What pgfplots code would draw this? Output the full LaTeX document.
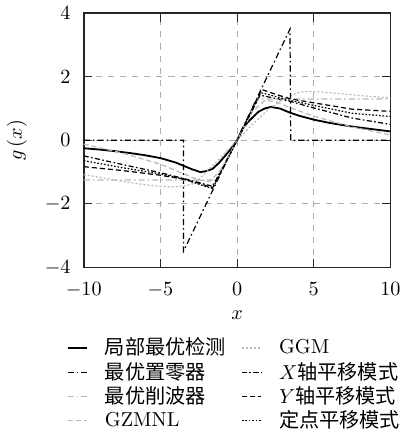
\documentclass[border=0pt]{standalone}
\usepackage{fontspec}
\usepackage{pgfplots}
\pgfplotsset{compat=1.18}
\newfontfamily\cjk{Noto Sans CJK SC}
\definecolor{lgray}{gray}{0.72}

\begin{document}
\begin{tikzpicture}
\begin{axis}[
    scale only axis,
    width=152pt, height=126pt,
    xmin=-10, xmax=10, ymin=-4, ymax=4,
    xtick={-10,-5,0,5,10},
    ytick={-4,-2,0,2,4},
    xticklabel shift=4pt,
    yticklabel shift=3pt,
    xlabel={$x$},
    ylabel={$g\left(x\right)$},
    ylabel shift=2pt,
    grid=major,
    grid style={dashed, gray!65},
    axis line style={black!85, line width=0.8pt},
    every tick/.style={black!85},
    legend columns=2,
    legend cell align=left,
    legend image code/.code={\draw[#1] (0pt,0pt) -- (9.5pt,0pt);},
    legend style={draw=none, fill=none, at={(0.49,-0.255)}, anchor=north,
        nodes={inner sep=0.6pt},
        row sep=0.9pt,
        /tikz/every odd column/.append style={column sep=8pt},
        /tikz/every even column/.append style={column sep=7pt}},
]
% row 1
\addplot[black, line width=0.9pt] coordinates {
    (-10,-0.25) (-9,-0.29) (-8,-0.34) (-7,-0.4) (-6,-0.47) (-5,-0.56)
    (-4,-0.7) (-3.5,-0.8) (-3,-0.9) (-2.4,-1.0) (-2,-0.97) (-1.6,-0.9)
    (-1.2,-0.72) (-0.8,-0.5) (-0.4,-0.27) (0,0) (0.2,0.19) (0.4,0.4)
    (0.8,0.62) (1.4,0.9) (1.8,1.0) (2.2,1.05) (2.8,1.0) (3.4,0.88)
    (4,0.78) (5,0.65) (6,0.55) (7,0.47) (8,0.4) (9,0.34) (10,0.28)
};
\addlegendentry{{\cjk 局部最优检测}}
\addplot[lgray, semithick, dash pattern=on 1pt off 1pt] coordinates {
    (-10,-1.08) (-9,-1.16) (-8,-1.25) (-7,-1.33) (-6,-1.4) (-5,-1.45)
    (-4.2,-1.47) (-3.5,-1.44) (-2.8,-1.36) (-2,-1.0) (-1,-0.5) (0,0)
    (1,0.5) (2,0.95) (3,1.3) (4,1.5) (4.5,1.54) (5.5,1.52) (6.5,1.48)
    (8,1.41) (9,1.37) (10,1.33)
};
\addlegendentry{GGM}
% row 2
\addplot[black, semithick, dash pattern=on 3pt off 1.5pt on 0.8pt off 1.5pt] coordinates {
    (-10,0) (-3.5,0) (-3.5,-3.5) (3.45,3.5) (3.5,0) (10,0)
};
\addlegendentry{{\cjk 最优置零器}}
\addplot[black, semithick, dash pattern=on 2.5pt off 1.2pt on 0.8pt off 1.2pt] coordinates {
    (-10,-0.49) (-7.5,-0.76) (-5,-1.02) (-3.5,-1.2) (-2.5,-1.33) (-1.6,-1.45)
    (0,0) (1.5,1.42) (2.5,1.32) (3.5,1.22) (5,1.02) (7.5,0.7) (10,0.5)
};
\addlegendentry{$X${\cjk 轴平移模式}}
% row 3
\addplot[lgray, semithick, dash pattern=on 3pt off 1.5pt on 0.8pt off 1.5pt] coordinates {
    (-10,-1.25) (-1.3,-1.25) (1.3,1.3) (10,1.3)
};
\addlegendentry{{\cjk 最优削波器}}
\addplot[black, semithick, dash pattern=on 2.5pt off 1.5pt] coordinates {
    (-10,-0.83) (-7.5,-0.95) (-5,-1.1) (-3.5,-1.22) (-2.5,-1.35) (-1.6,-1.5)
    (0,0) (1.6,1.6) (2.5,1.45) (3.5,1.3) (5,1.18) (7.5,0.98) (10,0.91)
};
\addlegendentry{$Y${\cjk 轴平移模式}}
% row 4
\addplot[lgray, semithick, dash pattern=on 2.5pt off 1.5pt] coordinates {
    (-10,-0.12) (-7.5,-0.4) (-5,-0.75) (-3.5,-1.05) (-2.5,-1.25) (-1.8,-1.3)
    (-1,-0.9) (0,0) (1,0.9) (1.8,1.25) (2.5,1.22) (3.5,1.02) (5,0.76)
    (7.5,0.42) (10,0.17)
};
\addlegendentry{GZMNL}
\addplot[black, semithick, dash pattern=on 0.8pt off 0.9pt] coordinates {
    (-10,-0.64) (-7.5,-0.86) (-5,-1.06) (-3.5,-1.22) (-2.5,-1.38) (-1.6,-1.52)
    (0,0) (1.55,1.5) (2.5,1.38) (3.5,1.25) (5,1.1) (7.5,0.85) (10,0.75)
};
\addlegendentry{{\cjk 定点平移模式}}
\end{axis}
\end{tikzpicture}
\end{document}
